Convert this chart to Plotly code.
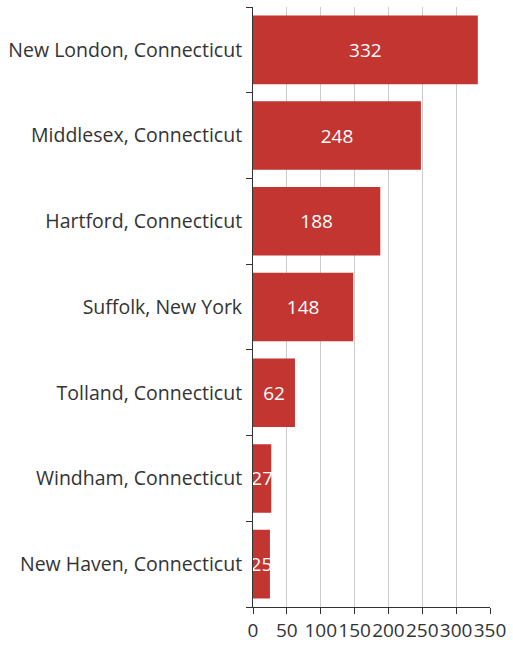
import plotly.graph_objects as go

categories = ["New London, Connecticut", "Middlesex, Connecticut", "Hartford, Connecticut",
              "Suffolk, New York", "Tolland, Connecticut", "Windham, Connecticut",
              "New Haven, Connecticut"]
values = [332, 248, 188, 148, 62, 27, 25]
x_ticks = [0, 50, 100, 150, 200, 250, 300, 350]

FONT = "Open Sans"

fig = go.Figure(go.Bar(
    x=values, y=categories, orientation="h",
    marker=dict(color="#c23531", line=dict(width=0)),
    text=[str(v) for v in values], textposition="inside", insidetextanchor="middle",
    constraintext="none", cliponaxis=False,
    textfont=dict(color="white", size=19, family=FONT),
))
fig.update_layout(
    width=513, height=646,
    margin=dict(l=253, r=23, t=7, b=39),
    plot_bgcolor="white", paper_bgcolor="white",
    bargap=0.2, showlegend=False,
    font=dict(family=FONT, size=19, color="#333"),
)
fig.update_xaxes(range=[0, 350], tickvals=x_ticks, ticktext=[str(t) for t in x_ticks],
                 showgrid=True, gridcolor="#ccc", gridwidth=1,
                 showline=True, linecolor="#333", linewidth=1,
                 ticks="outside", ticklen=6, tickcolor="#333", zeroline=False,
                 automargin=False, tickangle=0, ticklabeloverflow="allow",
                 tickfont=dict(size=19, color="#333", family=FONT))
fig.update_yaxes(categoryorder="array", categoryarray=categories[::-1],
                 showline=True, linecolor="#333", linewidth=1,
                 ticks="outside", ticklen=6, tickcolor="#333", tickson="boundaries",
                 showgrid=False, ticklabelstandoff=6, automargin=False,
                 tickfont=dict(size=19.5, color="#333", family=FONT))
fig.write_html("out.html", config={"displayModeBar": False},
               post_script="document.body.style.margin='0px';document.body.style.overflow='hidden';")
